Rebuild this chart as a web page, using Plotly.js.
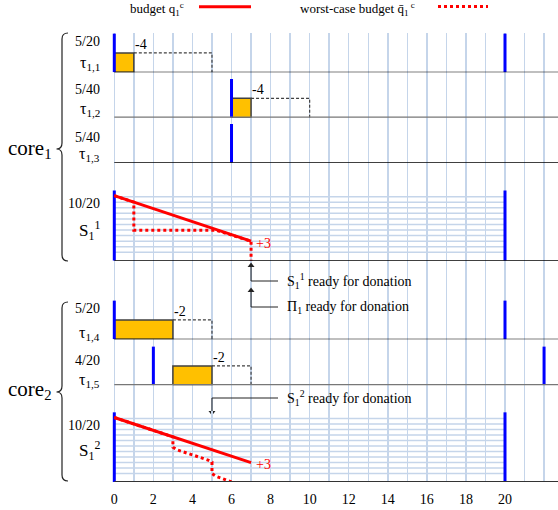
<!DOCTYPE html>
<html><head><meta charset="utf-8">
<script src="https://cdn.plot.ly/plotly-3.0.1.min.js"></script>
<style>html,body{margin:0;padding:0;background:#fff}</style>
</head><body><div id="chart" style="width:558px;height:510px"></div>
<script>
// ---------------- data ----------------
const xTickVals  = [0,2,4,6,8,10,12,14,16,18,20];
const xMinorVals = [1,3,5,7,9,11,13,15,17,19,21,22];

const taskNames   = ['τ<sub>1,1</sub>','τ<sub>1,2</sub>','τ<sub>1,3</sub>','τ<sub>1,4</sub>','τ<sub>1,5</sub>'];
const taskParams  = ['5/20','5/40','5/40','5/20','4/20'];
const execStart   = [0, 6, null, 0, 3];
const execEnd     = [1, 7, null, 3, 5];
const wcetEnd     = [5, 10, null, 5, 7];
const budgetDelta = ['-4','-4',null,'-2','-2'];
const taskReleases = [[0,20],[6],[6],[0,20],[2,22]];

const serverNames  = ['S<sub>1</sub><sup>1</sup>','S<sub>1</sub><sup>2</sup>'];
const serverParams = ['10/20','10/20'];
const serverReleases = [[0,20],[0,20]];
const budgetX = [[0,7],[0,7]];
const budgetY = [[10,3],[10,3]];
const worstX = [[0,1,1,5.2,7,7],[0,3,3,3.2,4.8,5,5,5.2,6]];
const worstY = [[10,9,4.7,4.7,3,0],[10,7,5.4,5.0,3.4,3.1,1.3,0.9,0]];
const remaining = ['+3','+3'];

// ---------------- layout helpers ----------------
const L=112, T=33, W=446, H=449;
const fx = px => (px-L)/W;
const fy = py => (T+H-py)/H;
const SERIF = 'Liberation Serif, Times New Roman, serif';
const GRID = '#c5d5ea';

// row geometry: [baseline px, px per unit, height px]
const taskRows   = [[72.3,19.4,39],[117.7,19.4,39],[162.7,19.4,39],[339.3,19.4,39],[385.3,19.4,39]];
const taskAxis   = ['y2','y3','y4','y6','y7'];
const serverRows = [[260.7,6.5,72],[482,6.45,72]];
const serverAxis = ['y5','y8'];
const taskBaseStyle = [['#000',1.2],['#777',2.5],['#000',1.2],['#000',1.2],['#777',2.5]];
const serverBaseStyle = [['#000',1.2],['#333',1.8]];

const layout = {
  width:558, height:510,
  margin:{l:L, r:558-L-W, t:T, b:510-T-H, pad:0},
  paper_bgcolor:'#fff', plot_bgcolor:'rgba(0,0,0,0)',
  showlegend:false,
  font:{family:SERIF, size:14, color:'#000'},
  xaxis:{range:[(L-114.3)/19.535,(558-114.3)/19.535], tickmode:'array', tickvals:xTickVals,
         showgrid:true, gridcolor:GRID, gridwidth:1.5, zeroline:false, showline:false, ticks:'',
         minor:{tickmode:'array', tickvals:xMinorVals, showgrid:true, gridcolor:GRID, gridwidth:1.5, ticks:''},
         ticklabelstandoff:7,
         tickfont:{family:SERIF,size:14,color:'#000'}, anchor:'y', fixedrange:true},
  yaxis:{domain:[0,1], range:[0,1], visible:false, fixedrange:true},
  shapes:[], annotations:[]
};

const traces = [{x:[], y:[], xaxis:'x', yaxis:'y', mode:'lines', hoverinfo:'skip'}];

function addAxis(ax, row){
  const [base, unit, h] = row;
  layout['yaxis'+ax.slice(1)] = {domain:[fy(base), fy(base-h)], range:[0, h/unit], visible:false, fixedrange:true, anchor:'x'};
}
function relLines(xs, top){
  const x=[], y=[];
  xs.forEach((v,i)=>{ if(i) {x.push(null); y.push(null);} x.push(v,v); y.push(0,top); });
  return {x, y};
}

// tasks
taskRows.forEach((row,i)=>{
  const ax = taskAxis[i];
  addAxis(ax,row);
  layout.shapes.push({type:'line', xref:'paper', x0:fx(114.3), x1:1, yref:ax, y0:0, y1:0,
                      line:{color:taskBaseStyle[i][0], width:taskBaseStyle[i][1]}});
  if (execStart[i] !== null) {
    const s=execStart[i], e=execEnd[i], w=wcetEnd[i];
    traces.push({x:[s,s,e,e,s], y:[0,1,1,0,0], xaxis:'x', yaxis:ax, mode:'lines', fill:'toself',
                 fillcolor:'#ffc000', line:{color:'#404040', width:1.5}, hoverinfo:'skip'});
    traces.push({x:[e,w,w], y:[1,1,0], xaxis:'x', yaxis:ax, mode:'lines',
                 line:{color:'#404040', width:1.2, dash:'3px,2px'}, hoverinfo:'skip'});
    layout.annotations.push({x:e, y:1, xref:'x', yref:ax, text:budgetDelta[i], showarrow:false,
                 xanchor:'left', yanchor:'bottom', xshift:-1, yshift:-1, font:{size:14}});
  }
  const r = relLines(taskReleases[i], 2);
  traces.push({x:r.x, y:r.y, xaxis:'x', yaxis:ax, mode:'lines', line:{color:'#0000ff', width:3}, hoverinfo:'skip'});
});

// servers
const sGridLevels = [1.3,2.155,3.01,3.865,4.72,5.575,6.43,7.285,8.14,8.995,9.85];
serverRows.forEach((row,i)=>{
  const ax = serverAxis[i];
  addAxis(ax,row);
  sGridLevels.forEach(v=>layout.shapes.push({type:'line', layer:'below', xref:'x', x0:0, x1:20, yref:ax, y0:v, y1:v,
                      line:{color:GRID, width:1.5}}));
  layout.shapes.push({type:'line', xref:'paper', x0:fx(114.3), x1:1, yref:ax, y0:0, y1:0,
                      line:{color:serverBaseStyle[i][0], width:serverBaseStyle[i][1]}});
  const r = relLines(serverReleases[i], 10.8);
  traces.push({x:r.x, y:r.y, xaxis:'x', yaxis:ax, mode:'lines', line:{color:'#0000ff', width:3}, hoverinfo:'skip'});
  traces.push({x:worstX[i], y:worstY[i], xaxis:'x', yaxis:ax, mode:'lines', line:{color:'#ff0000', width:3, dash:'dot'}, hoverinfo:'skip'});
  traces.push({x:budgetX[i], y:budgetY[i], xaxis:'x', yaxis:ax, mode:'lines', line:{color:'#ff0000', width:3}, hoverinfo:'skip'});
  const n = budgetX[i].length-1;
  layout.annotations.push({x:budgetX[i][n], y:budgetY[i][n], xref:'x', yref:ax, text:remaining[i], showarrow:false,
               xanchor:'left', yanchor:'middle', xshift:3, yshift:-2, font:{size:14, color:'#ff0000'}});
});

// left labels
const leftLabels = [
  [taskParams[0],41.7,14],[taskNames[0],63,16],
  [taskParams[1],89,14],[taskNames[1],110,16],
  [taskParams[2],137,14],[taskNames[2],155,16],
  [serverParams[0],203,14],[serverNames[0],230,17],
  [taskParams[3],308,14],[taskNames[3],333,16],
  [taskParams[4],360,14],[taskNames[4],380,16],
  [serverParams[1],425,14],[serverNames[1],450,17]
];
leftLabels.forEach(([t,py,sz])=>layout.annotations.push({xref:'paper', yref:'paper', x:fx(101.5), y:fy(py), text:t,
  showarrow:false, xanchor:'right', yanchor:'middle', font:{size:sz}}));

// cores + braces
layout.annotations.push({xref:'paper', yref:'paper', x:fx(6), y:fy(149), text:'core<sub>1</sub>', showarrow:false, xanchor:'left', yanchor:'middle', font:{size:21}});
layout.annotations.push({xref:'paper', yref:'paper', x:fx(6), y:fy(390), text:'core<sub>2</sub>', showarrow:false, xanchor:'left', yanchor:'middle', font:{size:21}});
function brace(top, bottom, tip){
  const xv=fx(62), xe=fx(68), xt=fx(56.5);
  const p = (a,b)=>a.toFixed(5)+','+b.toFixed(5);
  return 'M'+p(xe,fy(top))+' Q'+p(xv,fy(top))+' '+p(xv,fy(top+6))+' L'+p(xv,fy(tip-6))+' Q'+p(xv,fy(tip))+' '+p(xt,fy(tip))+
         ' Q'+p(xv,fy(tip))+' '+p(xv,fy(tip+6))+' L'+p(xv,fy(bottom-6))+' Q'+p(xv,fy(bottom))+' '+p(xe,fy(bottom));
}
layout.shapes.push({type:'path', xref:'paper', yref:'paper', path:brace(33,261,149), line:{color:'#222', width:1.2}});
layout.shapes.push({type:'path', xref:'paper', yref:'paper', path:brace(302,481,392), line:{color:'#222', width:1.2}});

// legend (top)
layout.annotations.push({xref:'paper', yref:'paper', x:fx(128), y:fy(9), text:'budget q<sub>1</sub><sup>c</sup>', showarrow:false, xanchor:'left', yanchor:'middle', font:{size:13}});
layout.shapes.push({type:'line', xref:'paper', yref:'paper', x0:fx(199), x1:fx(251), y0:fy(6.7), y1:fy(6.7), line:{color:'#ff0000', width:3}});
layout.annotations.push({xref:'paper', yref:'paper', x:fx(298), y:fy(9), text:'worst-case budget q\u0304<sub>1</sub><sup> c</sup>', showarrow:false, xanchor:'left', yanchor:'middle', font:{size:13}});
layout.shapes.push({type:'line', xref:'paper', yref:'paper', x0:fx(438), x1:fx(488), y0:fy(6.5), y1:fy(6.5), line:{color:'#ff0000', width:3, dash:'dot'}});

// donation markers (connector lines + arrowheads)
const donations = [
  {text:'S<sub>1</sub><sup>1</sup> ready for donation', x:7, tip:262, tail:281},
  {text:'Π<sub>1</sub> ready for donation', x:7, tip:287, tail:307},
  {text:'S<sub>1</sub><sup>2</sup> ready for donation', x:5, tip:416, tail:398}
];
const headX=[], headY=[], headSym=[];
donations.forEach(d=>{
  const dir = d.tail > d.tip ? 1 : -1;  // 1: arrow points up
  layout.shapes.push({type:'line', xref:'x', yref:'paper', x0:d.x, x1:d.x, y0:fy(d.tail), y1:fy(d.tip + dir*5), line:{color:'#222', width:1}});
  layout.shapes.push({type:'line', xref:'paper', yref:'paper', x0:fx(114.3+d.x*19.535), x1:fx(278), y0:fy(d.tail), y1:fy(d.tail), line:{color:'#222', width:1}});
  headX.push(d.x); headY.push(fy(d.tip + dir*3.5)); headSym.push(dir>0 ? 'triangle-up' : 'triangle-down');
  layout.annotations.push({xref:'paper', yref:'paper', x:fx(285), y:fy(d.tail), text:d.text, showarrow:false, xanchor:'left', yanchor:'middle', font:{size:14}});
});
layout.yaxis9 = {domain:[0,1], range:[0,1], visible:false, fixedrange:true, overlaying:'y', anchor:'x'};
traces.push({x:headX, y:headY, xaxis:'x', yaxis:'y9', mode:'markers', cliponaxis:false,
             marker:{symbol:headSym, size:6, color:'#222'}, hoverinfo:'skip'});

Plotly.newPlot('chart', traces, layout, {staticPlot:true, displayModeBar:false});
</script></body></html>
